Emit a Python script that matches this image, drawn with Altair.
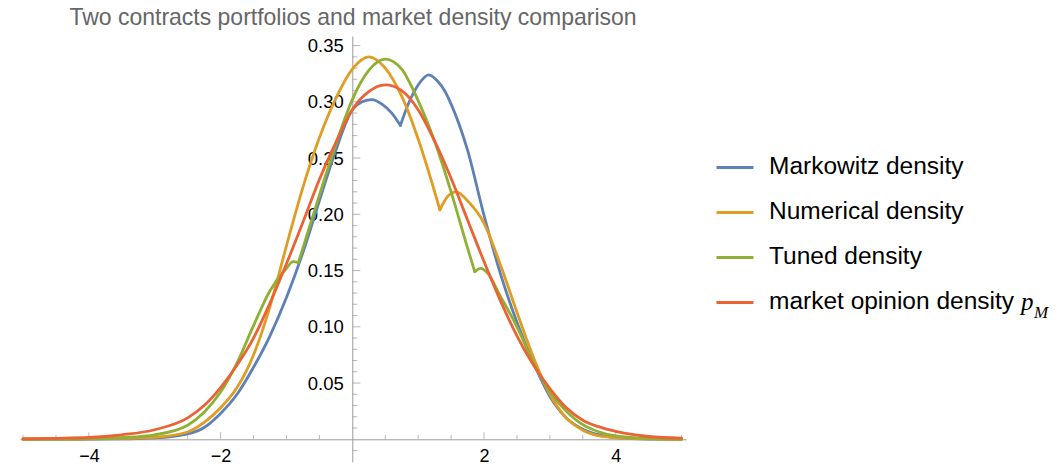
import altair as alt
import pandas as pd

# ---------------- data ----------------
series_names = ["Markowitz density", "Numerical density", "Tuned density", "market opinion density"]
series_colors = ["#5E81B5", "#E19C24", "#8FB032", "#EB6235"]

# Markowitz density (blue): two smooth pieces meeting at a kink
mk_x1 = [-5.0, -4.5, -4.0, -3.5, -3.0, -2.5, -2.25, -2.0, -1.75, -1.5, -1.25, -1.0, -0.75, -0.5, -0.25, 0.0, 0.15, 0.3, 0.45, 0.6, 0.73]
mk_y1 = [0.0, 0.0, 0.0001, 0.0004, 0.0012, 0.0048, 0.0105, 0.023, 0.040, 0.064, 0.092, 0.126, 0.166, 0.212, 0.257, 0.293, 0.300, 0.302, 0.298, 0.290, 0.279]
mk_x2 = [0.73, 0.85, 1.0, 1.16, 1.3, 1.4, 1.5, 1.75, 2.0, 2.25, 2.5, 2.75, 3.0, 3.25, 3.5, 3.75, 4.0, 4.5, 5.0]
mk_y2 = [0.279, 0.298, 0.315, 0.324, 0.318, 0.310, 0.298, 0.257, 0.199, 0.147, 0.104, 0.068, 0.038, 0.019, 0.009, 0.004, 0.0015, 0.0002, 0.0]

# Numerical density (orange)
nu_x1 = [-5.0, -4.5, -4.0, -3.5, -3.0, -2.5, -2.25, -2.0, -1.75, -1.5, -1.25, -1.0, -0.75, -0.5, -0.25, 0.0, 0.25, 0.5, 0.75, 1.0, 1.2, 1.33]
nu_y1 = [0.0, 0.0001, 0.0003, 0.0008, 0.0018, 0.0065, 0.015, 0.028, 0.046, 0.075, 0.118, 0.172, 0.224, 0.268, 0.303, 0.329, 0.340, 0.330, 0.305, 0.267, 0.230, 0.204]
nu_x2 = [1.33, 1.45, 1.58, 1.75, 2.0, 2.25, 2.5, 2.75, 3.0, 3.25, 3.5, 3.75, 4.0, 4.5, 5.0]
nu_y2 = [0.204, 0.216, 0.220, 0.212, 0.192, 0.155, 0.113, 0.073, 0.040, 0.019, 0.008, 0.003, 0.0015, 0.0003, 0.0]

# Tuned density (green): three pieces
tu_x1 = [-5.0, -4.5, -4.0, -3.5, -3.0, -2.5, -2.25, -2.0, -1.75, -1.5, -1.25, -1.0, -0.9, -0.82]
tu_y1 = [0.0001, 0.0002, 0.0005, 0.0015, 0.004, 0.0125, 0.024, 0.042, 0.068, 0.101, 0.132, 0.152, 0.158, 0.157]
tu_x2 = [-0.82, -0.75, -0.5, -0.25, 0.0, 0.25, 0.5, 0.75, 1.0, 1.25, 1.5, 1.75, 1.86]
tu_y2 = [0.157, 0.170, 0.217, 0.262, 0.302, 0.328, 0.338, 0.329, 0.301, 0.265, 0.220, 0.170, 0.149]
tu_x3 = [1.86, 1.95, 2.05, 2.25, 2.5, 2.75, 3.0, 3.25, 3.5, 3.75, 4.0, 4.5, 5.0]
tu_y3 = [0.149, 0.152, 0.148, 0.127, 0.100, 0.068, 0.042, 0.025, 0.013, 0.0065, 0.003, 0.0008, 0.0002]

# market opinion density p_M (red)
pm_x = [-5.0, -4.5, -4.0, -3.5, -3.0, -2.5, -2.25, -2.0, -1.75, -1.5, -1.25, -1.0, -0.75, -0.5, -0.25, 0.0, 0.25, 0.5, 0.75, 1.0, 1.25, 1.5, 1.75, 2.0, 2.25, 2.5, 2.75, 3.0, 3.25, 3.5, 3.75, 4.0, 4.5, 5.0]
pm_y = [0.0005, 0.0009, 0.0016, 0.0040, 0.0085, 0.019, 0.030, 0.046, 0.066, 0.090, 0.121, 0.156, 0.193, 0.231, 0.264, 0.293, 0.309, 0.315, 0.310, 0.293, 0.265, 0.232, 0.195, 0.158, 0.123, 0.092, 0.066, 0.045, 0.028, 0.017, 0.011, 0.007, 0.0025, 0.001]

x_major_ticks = [-4, -2, 2, 4]
x_minor_ticks = [-5, -4.5, -3.5, -3, -2.5, -1.5, -1, -0.5, 0.5, 1, 1.5, 2.5, 3, 3.5, 4.5, 5]
y_major_ticks = [0.05, 0.10, 0.15, 0.20, 0.25, 0.30, 0.35]
y_minor_ticks = [-0.01, 0.01, 0.02, 0.03, 0.04, 0.06, 0.07, 0.08, 0.09, 0.11, 0.12, 0.13, 0.14,
                 0.16, 0.17, 0.18, 0.19, 0.21, 0.22, 0.23, 0.24, 0.26, 0.27, 0.28, 0.29,
                 0.31, 0.32, 0.33, 0.34]

title_text = "Two contracts portfolios and market density comparison"

# ---------------- build table ----------------
pieces = [
    (series_names[0], "m1", mk_x1, mk_y1),
    (series_names[0], "m2", mk_x2, mk_y2),
    (series_names[1], "n1", nu_x1, nu_y1),
    (series_names[1], "n2", nu_x2, nu_y2),
    (series_names[2], "t1", tu_x1, tu_y1),
    (series_names[2], "t2", tu_x2, tu_y2),
    (series_names[2], "t3", tu_x3, tu_y3),
    (series_names[3], "p1", pm_x, pm_y),
]
rows = []
order = 0
for s, seg, xs, ys in pieces:
    for xv, yv in zip(xs, ys):
        rows.append({"series": s, "seg": seg, "x": xv, "y": yv, "o": order})
        order += 1
df = pd.DataFrame(rows)

X_DOMAIN = [-5.046, 5.067]
Y_DOMAIN = [-0.02, 0.3585]
AXIS_GRAY = "#9a9a9a"
FONT = "Liberation Sans"

xscale = alt.Scale(domain=X_DOMAIN, nice=False, zero=False)
yscale = alt.Scale(domain=Y_DOMAIN, nice=False, zero=False)

lines = alt.Chart(df).mark_line(interpolate="monotone", strokeWidth=2.8, strokeCap="round", strokeJoin="round").encode(
    x=alt.X("x:Q", scale=xscale,
            axis=alt.Axis(values=x_major_ticks, format="d", offset=-22.5, ticks=False, grid=False,
                          domainColor=AXIS_GRAY, domainWidth=1, labelFontSize=18, labelFont=FONT,
                          labelColor="black", labelPadding=8, title=None)),
    y=alt.Y("y:Q", scale=yscale,
            axis=alt.Axis(values=y_major_ticks, format=".2f", offset=-332.3, ticks=False, grid=False,
                          domainColor=AXIS_GRAY, domainWidth=1, labelFontSize=18.5, labelFont=FONT,
                          labelColor="black", labelPadding=9, title=None)),
    color=alt.Color("series:N", sort=series_names,
                    scale=alt.Scale(domain=series_names, range=series_colors),
                    legend=alt.Legend(orient="none", legendX=695, legendY=111.5, title=None,
                                      symbolType="stroke", symbolSize=1369, symbolStrokeWidth=2.8,
                                      labelFontSize=24.5, labelFont=FONT, labelColor="black",
                                      labelOffset=14, rowPadding=13, padding=0, labelLimit=500)),
    detail="seg:N",
    order="o:Q",
)

xmaj = alt.Chart(pd.DataFrame({"t": x_major_ticks})).mark_tick(
    orient="vertical", size=7, thickness=1, yOffset=-3.5, color=AXIS_GRAY
).encode(x=alt.X("t:Q", scale=xscale), y=alt.datum(0))
xmin = alt.Chart(pd.DataFrame({"t": x_minor_ticks})).mark_tick(
    orient="vertical", size=4.3, thickness=1, yOffset=-2.15, color=AXIS_GRAY
).encode(x=alt.X("t:Q", scale=xscale), y=alt.datum(0))
ymaj = alt.Chart(pd.DataFrame({"t": y_major_ticks})).mark_tick(
    orient="horizontal", size=8, thickness=1, xOffset=4, color=AXIS_GRAY
).encode(y=alt.Y("t:Q", scale=yscale), x=alt.datum(0))
ymin = alt.Chart(pd.DataFrame({"t": y_minor_ticks})).mark_tick(
    orient="horizontal", size=5, thickness=1, xOffset=2.5, color=AXIS_GRAY
).encode(y=alt.Y("t:Q", scale=yscale), x=alt.datum(0))

one = pd.DataFrame({"k": [0]})
p_text = alt.Chart(one).mark_text(text="p", font="Liberation Serif", fontStyle="italic", fontSize=25,
                                  align="left", baseline="alphabetic", color="black").encode(
    x=alt.value(1001), y=alt.value(274.5))
m_text = alt.Chart(one).mark_text(text="M", font="Liberation Serif", fontStyle="italic", fontSize=17,
                                  align="left", baseline="alphabetic", color="black").encode(
    x=alt.value(1014), y=alt.value(282.5))

chart = alt.layer(xmin, xmaj, ymin, ymaj, lines, p_text, m_text).properties(
    width=666,
    height=425.8,
    padding={"left": 20, "top": 36, "right": 374, "bottom": 6},
    autosize=alt.AutoSizeParams(type="none"),
    title=alt.Title(title_text, fontSize=23, font=FONT, fontWeight="normal", color="#666666",
                    anchor="middle", frame="group", baseline="alphabetic", offset=10.5, dy=22.5),
).configure(background="white").configure_view(stroke=None)

chart.save("out.html", embed_options={"renderer": "svg", "actions": False})
